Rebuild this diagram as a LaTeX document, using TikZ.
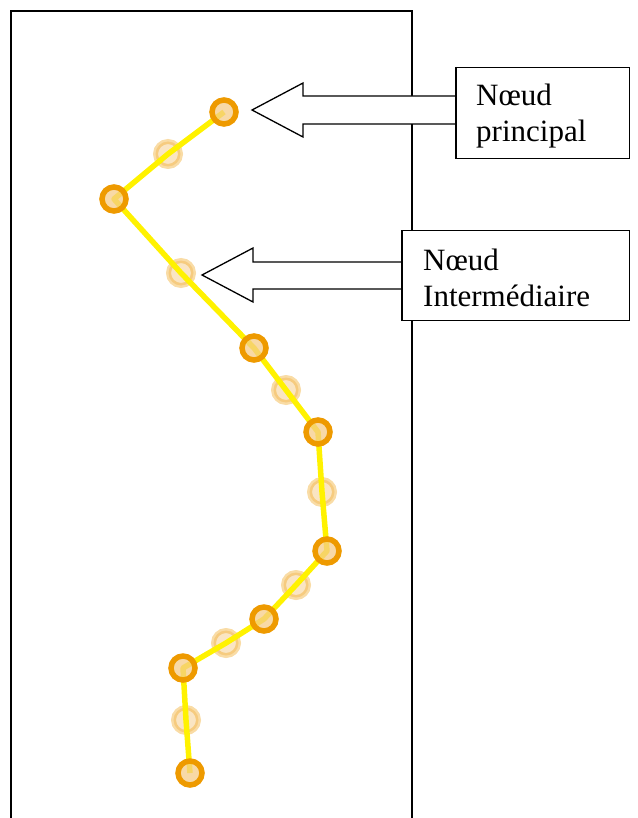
\documentclass[tikz,border=0pt]{standalone}
\usepackage{fontspec}
\setmainfont{Liberation Serif}
\usetikzlibrary{calc}
\definecolor{ringor}{HTML}{EE9A00}
\definecolor{fillor}{HTML}{F5CC88}
\definecolor{pathyel}{HTML}{FFF200}
\tikzset{
  mainnode/.style={circle,draw=ringor,line width=5.5pt,fill=fillor,fill opacity=0.75,draw opacity=1,minimum size=24pt,inner sep=0pt},
  midnode/.style={circle,draw=ringor,line width=5pt,fill=fillor,draw opacity=0.35,fill opacity=0.5,minimum size=25pt,inner sep=0pt},
  trail/.style={pathyel,line width=5.5pt,line join=round},
  labelbox/.style={draw=black,line width=1.3pt,fill=white,anchor=north west,inner sep=0pt},
  labeltext/.style={anchor=base west,inner sep=0pt,font=\fontsize{31}{36}\selectfont},
  blockarrow/.style={draw=black,line width=1.3pt,fill=white,line join=miter},
  frame/.style={draw=black,line width=2pt}
}
\begin{document}
\begin{tikzpicture}[x=1pt,y=-1pt]
\useasboundingbox (0,0) rectangle (637,818);
% frame
\coordinate (fbl) at (11,820);
\coordinate (ftl) at (11,11);
\coordinate (ftr) at (412,11);
\coordinate (fbr) at (412,820);
\draw[frame] (fbl) -- (ftl) -- (ftr) -- (fbr);
% intermediate nodes
\node[midnode] (i1) at (168,154) {};
\node[midnode] (i2) at (181,273) {};
\node[midnode] (i3) at (286,390) {};
\node[midnode] (i4) at (322,492) {};
\node[midnode] (i5) at (296,585) {};
\node[midnode] (i6) at (226,643) {};
\node[midnode] (i7) at (186,720) {};
% main node positions
\coordinate (m1) at (224,112);
\coordinate (m2) at (114,199);
\coordinate (m3) at (254,348);
\coordinate (m4) at (318,432);
\coordinate (m5) at (327,551);
\coordinate (m6) at (264,619);
\coordinate (m7) at (183,668);
\coordinate (m8) at (190,773);
% trail
\draw[trail] (m1) -- (i1.center) -- (m2) -- (i2.center) -- (m3) -- (i3.center) -- (m4) -- (i4.center) -- (m5) -- (i5.center) -- (m6) -- (i6.center) -- (m7) -- (i7.center) -- (m8);
% main nodes
\foreach \k in {1,...,8}{
  \node[mainnode] (n\k) at (m\k) {};
}
% label boxes
\node[labelbox,minimum width=173pt,minimum height=91pt] (box1) at (456,67) {};
\node[labeltext] (t1a) at (476,106) {Nœud};
\node[labeltext] (t1b) at (476,142) {principal};
\node[labelbox,minimum width=227pt,minimum height=90pt] (box2) at (402,230) {};
\node[labeltext] (t2a) at (423,270) {Nœud};
\node[labeltext] (t2b) at (423,306) {Intermédiaire};
% block arrows
\coordinate (tipA) at (252,110);
\coordinate (tipB) at (202,275);
\draw[blockarrow] (tipA) -- ($(tipA)+(51,-27)$) -- ($(tipA)+(51,-14)$) -- ($(tipA -| box1.west)+(0,-14)$) -- ($(tipA -| box1.west)+(0,14)$) -- ($(tipA)+(51,14)$) -- ($(tipA)+(51,27)$) -- cycle;
\draw[blockarrow] (tipB) -- ($(tipB)+(51,-27)$) -- ($(tipB)+(51,-13)$) -- ($(tipB -| box2.west)+(0,-13)$) -- ($(tipB -| box2.west)+(0,14)$) -- ($(tipB)+(51,14)$) -- ($(tipB)+(51,27)$) -- cycle;
\draw[draw=black,line width=1.3pt] (box1.north west) -- (box1.south west);
\draw[draw=black,line width=1.3pt] (box2.north west) -- (box2.south west);
\end{tikzpicture}
\end{document}
